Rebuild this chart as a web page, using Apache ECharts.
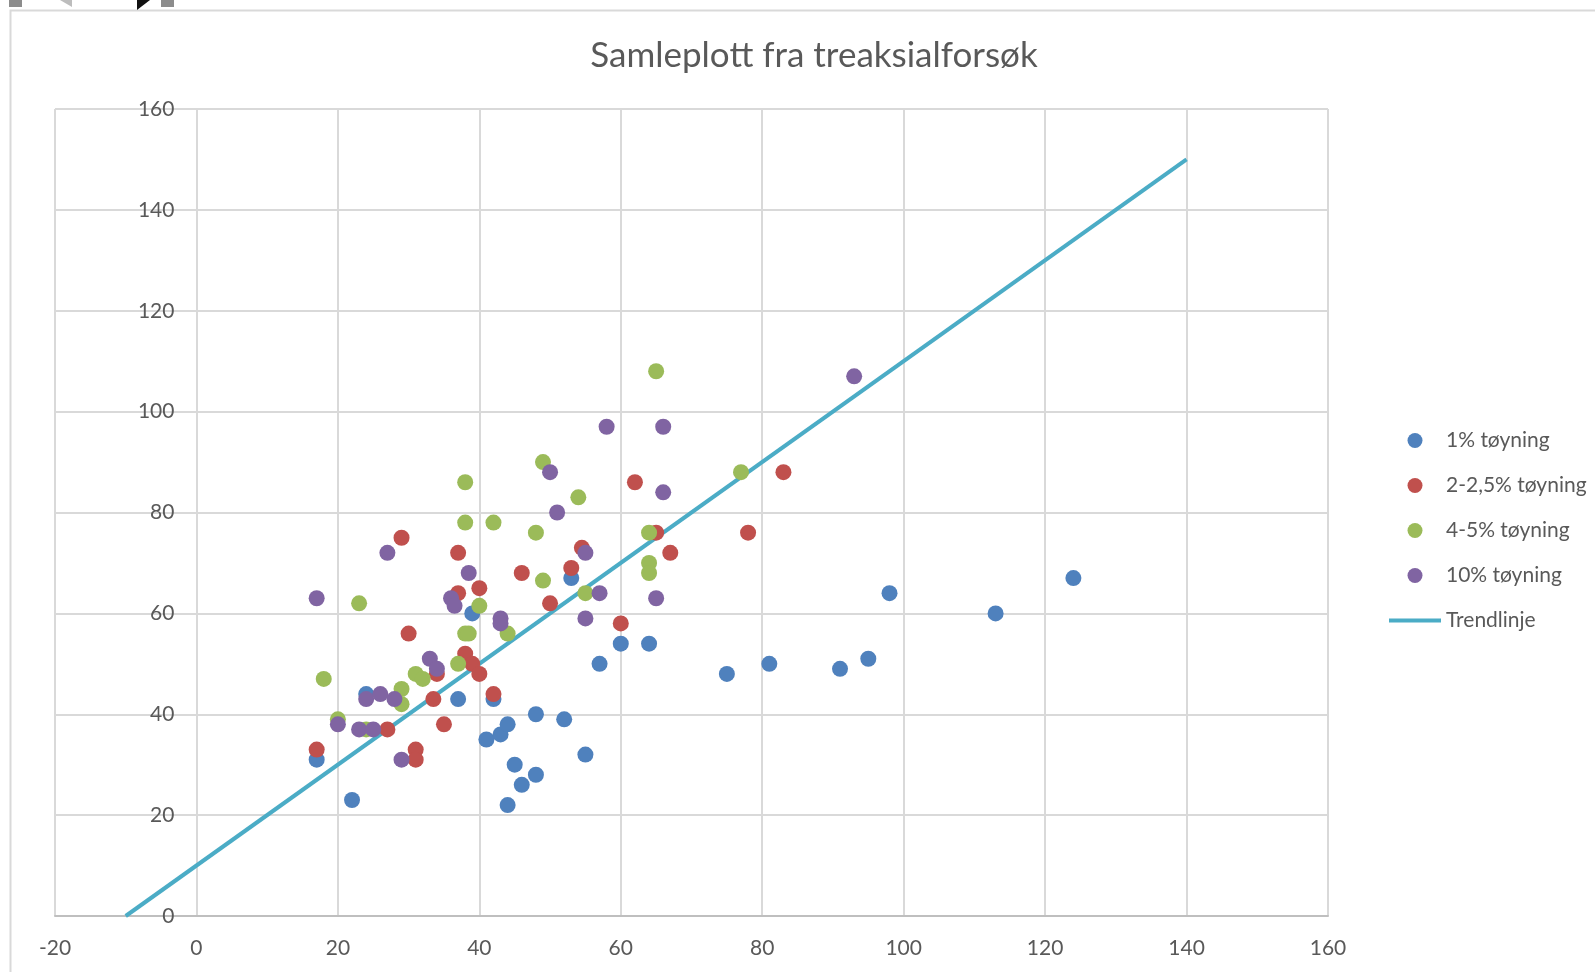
<!DOCTYPE html>
<html>
<head>
<meta charset="utf-8">
<title>Samleplott fra treaksialforsøk</title>
<script src="https://cdn.jsdelivr.net/npm/echarts@6/dist/echarts.min.js"></script>
<style>
  html, body { margin: 0; padding: 0; background: #ffffff; }
  #chart { width: 1595px; height: 972px; }
</style>
</head>
<body>
<div id="chart"></div>
<script>
  // punkter [x, y] lest av bildet
  var toyning1 = [
    [17, 31], [22, 23], [24, 44], [37, 43], [39, 60], [41, 35], [42, 43], [43, 36],
    [44, 38], [44, 22], [45, 30], [46, 26], [48, 40], [48, 28], [52, 39], [53, 67],
    [55, 32], [57, 50], [60, 54], [64, 54], [75, 48], [81, 50], [91, 49], [95, 51],
    [98, 64], [113, 60], [124, 67]
  ];
  var toyning2 = [
    [17, 33], [27, 37], [29, 75], [30, 56], [31, 33], [31, 31], [33.5, 43], [34, 48],
    [35, 38], [37, 72], [37, 64], [38, 52], [39, 50], [40, 48], [40, 65], [42, 44],
    [46, 68], [50, 62], [53, 69], [54.5, 73], [60, 58], [62, 86], [65, 76], [67, 72],
    [78, 76], [83, 88]
  ];
  var toyning4 = [
    [18, 47], [20, 39], [23, 62], [24, 37], [29, 45], [29, 42], [31, 48], [32, 47],
    [37, 50], [38, 56], [38.5, 56], [40, 61.5], [44, 56], [38, 86], [38, 78], [42, 78],
    [48, 76], [49, 90], [49, 66.5], [54, 83], [55, 64], [64, 76], [64, 70], [64, 68],
    [65, 108], [77, 88]
  ];
  var toyning10 = [
    [17, 63], [20, 38], [23, 37], [25, 37], [24, 43], [26, 44], [28, 43], [29, 31],
    [33, 51], [34, 49], [36, 63], [36.5, 61.5], [38.5, 68], [43, 59], [43, 58], [27, 72],
    [50, 88], [51, 80], [55, 72], [55, 59], [57, 64], [58, 97], [66, 97], [66, 84],
    [65, 63], [93, 107]
  ];
  var trendlinje = [[-10, 0], [140, 150]];

  var seriesNames = ['1% tøyning', '2-2,5% tøyning', '4-5% tøyning', '10% tøyning', 'Trendlinje'];
  var colors = ['#4F81BD', '#C0504D', '#9BBB59', '#8064A2', '#4BACC6'];

  var textColor = '#595959';
  var gridColor = '#d9d9d9';
  var font = 'Lato, "Open Sans", sans-serif';

  // plottområdet i piksler
  var gridLeft = 55, gridRight = 267;
  var plotWidth = 1595 - gridLeft - gridRight;
  // y-aksen står ved x = 0, altså 20 enheter inn fra venstre kant (-20 .. 160)
  var yAxisShift = plotWidth * 20 / 180;

  var myChart = echarts.init(document.getElementById('chart'));

  function punktSerie(name, data, color) {
    return {
      name: name,
      type: 'scatter',
      data: data,
      symbol: 'circle',
      symbolSize: 16,
      itemStyle: { color: color, opacity: 1 },
      z: 3
    };
  }

  var option = {
    backgroundColor: '#ffffff',
    animation: false,
    title: {
      text: 'Samleplott fra treaksialforsøk',
      left: 809,
      top: 33,
      textAlign: 'center',
      textStyle: { color: textColor, fontSize: 35, fontWeight: 'normal', fontFamily: font }
    },
    legend: {
      orient: 'vertical',
      left: 1382,
      top: 425,
      itemWidth: 52,
      itemHeight: 15,
      itemGap: 24,
      data: [
        seriesNames[0], seriesNames[1], seriesNames[2], seriesNames[3],
        { name: seriesNames[4], itemStyle: { opacity: 0 }, lineStyle: { width: 4 } }
      ],
      textStyle: { color: textColor, fontSize: 21, fontFamily: font }
    },
    grid: {
      left: gridLeft,
      right: gridRight,
      top: 109,
      bottom: 56,
      containLabel: false,
      outerBoundsMode: 'none'
    },
    xAxis: {
      type: 'value',
      min: -20,
      max: 160,
      interval: 20,
      axisLine: { show: true, onZero: true, lineStyle: { color: '#bfbfbf', width: 2 } },
      axisTick: { show: false },
      axisLabel: { color: textColor, fontSize: 21, fontFamily: font, margin: 22 },
      splitLine: { show: true, lineStyle: { color: gridColor, width: 2 } }
    },
    yAxis: {
      type: 'value',
      min: 0,
      max: 160,
      interval: 20,
      offset: -yAxisShift,
      axisLine: { show: true, onZero: false, lineStyle: { color: gridColor, width: 2 } },
      axisTick: { show: false },
      axisLabel: { color: textColor, fontSize: 21, fontFamily: font, margin: 22 },
      splitLine: { show: true, lineStyle: { color: gridColor, width: 2 } }
    },
    series: [
      punktSerie(seriesNames[0], toyning1, colors[0]),
      punktSerie(seriesNames[1], toyning2, colors[1]),
      punktSerie(seriesNames[2], toyning4, colors[2]),
      punktSerie(seriesNames[3], toyning10, colors[3]),
      {
        name: seriesNames[4],
        type: 'line',
        data: trendlinje,
        symbol: 'none',
        showSymbol: false,
        lineStyle: { color: colors[4], width: 4 },
        itemStyle: { color: colors[4] },
        z: 2
      }
    ],
    // rammen rundt diagrammet og markeringshåndtakene øverst til venstre
    graphic: [
      { type: 'rect', shape: { x: 10.5, y: 10.5, width: 1700, height: 1100 }, style: { fill: 'none', stroke: gridColor, lineWidth: 2 }, silent: true },
      { type: 'rect', shape: { x: 9, y: 0, width: 13, height: 7 }, style: { fill: '#8c8c8c' }, silent: true },
      { type: 'rect', shape: { x: 161, y: 0, width: 13, height: 7 }, style: { fill: '#8c8c8c' }, silent: true },
      { type: 'polygon', shape: { points: [[60, 0], [72, 0], [72, 7]] }, style: { fill: '#bdbdbd' }, silent: true },
      { type: 'polygon', shape: { points: [[137, 0], [150, 0], [137, 10]] }, style: { fill: '#111111' }, silent: true }
    ]
  };

  myChart.setOption(option);
</script>
</body>
</html>
